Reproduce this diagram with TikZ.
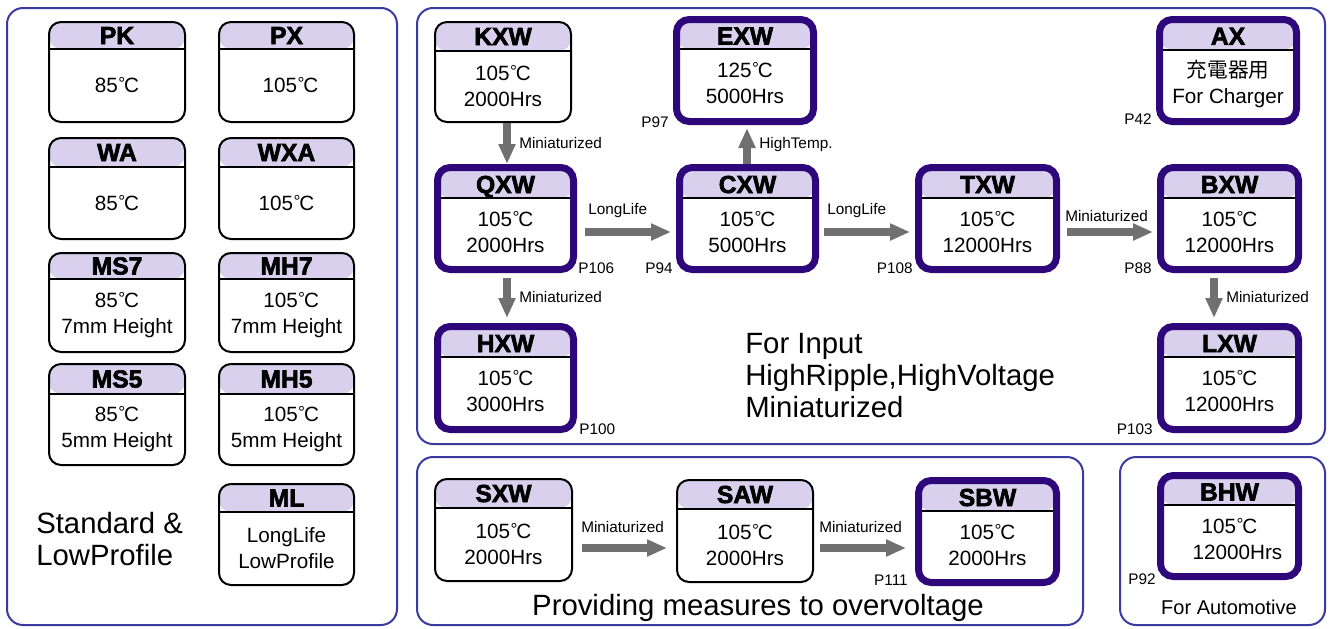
\documentclass[tikz,border=0pt]{standalone}
\usepackage{fontspec}
\setmainfont{Liberation Sans}
\newfontfamily\cjkfont{Noto Sans CJK JP}
\newfontfamily\hdrfont{Liberation Sans Bold}[FakeBold=2.5]
\usetikzlibrary{arrows.meta,calc,fit}
\definecolor{hdrcol}{RGB}{216,208,236}
\definecolor{thickcol}{RGB}{46,8,122}
\definecolor{framecol}{RGB}{58,58,160}
\definecolor{arrcol}{RGB}{112,112,112}
\newcommand\dC{\kern0.3pt\raisebox{2.2pt}{\fontsize{13}{13}\selectfont°}\kern-0.8pt C}
\tikzset{
  hdr/.style={path picture={
    \fill[hdrcol] ([yshift=4pt]path picture bounding box.north west) rectangle ([yshift=-#1*0.75pt]path picture bounding box.north east);
    \draw[black, line width=1.5pt] ([yshift=-#1*0.75pt]path picture bounding box.north west) -- ([yshift=-#1*0.75pt]path picture bounding box.north east);
  }},
  thinbox/.style={draw=black, line width=1.5pt, rounded corners=9pt, fill=white, inner sep=0pt},
  thickbox/.style={draw=thickcol, line width=5.25pt, rounded corners=9.5pt, fill=white, inner sep=0pt},
  ttl/.style={font=\fontsize{18.5}{20}\hdrfont, inner sep=0pt},
  body/.style={font=\fontsize{15.5}{19.5}\selectfont, align=center, inner sep=0pt},
  lbl/.style={font=\fontsize{11.5}{13}\selectfont, inner sep=0pt},
  big/.style={font=\fontsize{22}{24}\selectfont, align=left, inner sep=0pt},
  frame/.style={draw=framecol, line width=1.5pt, rounded corners=12pt},
  arr/.style={draw=arrcol, line width=6.5pt, -{Triangle[length=15pt,width=12pt]}},
}
\newcommand\mkthin[8]{%
  \node[thinbox, hdr=#6, fit={(#2,#3) (#4,#5)}] (#1) {};
  \node[ttl, anchor=base] (#1t) at ({(#2+#4)/2},{#3+#6/2+8.5}) {#7};
  \node[body] (#1b) at ({(#2+#4)/2},{(#3+#6+#5)/2}) {#8};
}
\newcommand\mkthick[8]{%
  \node[thickbox, hdr=#6, fit={(#2,#3) (#4,#5)}] (#1) {};
  \node[ttl, anchor=base] (#1t) at ({(#2+#4)/2},{#3+(#6+3.5)/2+8.5}) {#7};
  \node[body] (#1b) at ({(#2+#4)/2},{(#3+#6+#5-3.5)/2}) {#8};
}
\begin{document}
\begin{tikzpicture}[x=0.75pt,y=-0.75pt]
\useasboundingbox (0,0) rectangle (1330,628);
\fill[white] (0,0) rectangle (1330,628);
% frames
\draw[frame] (7,8) rectangle (397,625);
\draw[frame] (417,8) rectangle (1325,444);
\draw[frame] (417,457) rectangle (1083,625);
\draw[frame] (1120,457) rectangle (1325,625);
% left panel
\mkthin{PK}{49}{22}{185}{122}{27}{PK}{85\dC}
\mkthin{PX}{219}{22}{354}{122}{27}{PX}{\hspace*{6pt}105\dC}
\mkthin{WA}{49}{138}{185}{239}{29}{WA}{85\dC}
\mkthin{WXA}{219}{138}{354}{239}{29}{WXA}{105\dC}
\mkthin{MSs}{49}{253}{185}{352}{26}{MS7}{85\dC\\7mm Height}
\mkthin{MHs}{219}{253}{354}{352}{26}{MH7}{\hspace*{7pt}105\dC\\7mm Height}
\mkthin{MSf}{49}{364}{185}{465}{30}{MS5}{85\dC\\5mm Height}
\mkthin{MHf}{219}{364}{354}{465}{30}{MH5}{\hspace*{7pt}105\dC\\5mm Height}
\mkthin{ML}{219}{484}{354}{585}{28}{ML}{LongLife\\LowProfile}
\node[big, anchor=west] (std) at (36,539.5) {Standard \&\\LowProfile};
% top right panel
\mkthin{KXW}{435}{22}{571}{122}{29}{KXW}{105\dC\\2000Hrs}
\mkthick{EXW}{676.5}{19.5}{813.5}{121.5}{29.5}{EXW}{125\dC\\5000Hrs}
\mkthick{AX}{1159.5}{19.5}{1296.5}{121.5}{30}{AX}{{\cjkfont 充電器用}\\For Charger}
\mkthick{QXW}{437.5}{167.5}{573.5}{269.5}{30.5}{QXW}{105\dC\\2000Hrs}
\mkthick{CXW}{679.5}{167.5}{815.5}{269.5}{30.5}{CXW}{105\dC\\5000Hrs}
\mkthick{TXW}{918.5}{167.5}{1056.5}{269.5}{30.5}{TXW}{105\dC\\12000Hrs}
\mkthick{BXW}{1160.5}{167.5}{1298.5}{269.5}{30.5}{BXW}{105\dC\\12000Hrs}
\mkthick{HXW}{437.5}{326.5}{573.5}{429.5}{30.5}{HXW}{105\dC\\3000Hrs}
\mkthick{LXW}{1160.5}{326.5}{1298.5}{429.5}{30.5}{LXW}{105\dC\\12000Hrs}
\node[big, anchor=west] (input) at (745,376) {For Input\\HighRipple,HighVoltage\\Miniaturized};
% bottom middle
\mkthin{SXW}{435}{479}{572}{581}{29}{SXW}{105\dC\\2000Hrs}
\mkthin{SAW}{677}{480}{813}{582}{29}{SAW}{105\dC\\2000Hrs}
\mkthick{SBW}{918.5}{480.5}{1056.5}{582.5}{30.5}{SBW}{105\dC\\2000Hrs}
\node[big, anchor=base] (prov) at (758,615) {Providing measures to overvoltage};
% bottom right
\mkthick{BHW}{1160.5}{475.5}{1298.5}{576.5}{29.5}{BHW}{105\dC\\\hspace*{12pt}12000Hrs}
\node[font=\fontsize{15}{17}\selectfont, inner sep=0pt, anchor=base] (auto) at (1229,614) {For Automotive};
% arrows
\coordinate (a1) at ($(KXW.south)+(4,0)$);
\draw[arr] (a1) -- (a1 |- QXW.north);
\coordinate (a2) at ($(QXW.south)+(1.5,5)$);
\coordinate (a2e) at ($(HXW.north)+(0,-5)$);
\draw[arr] (a2) -- (a2 |- a2e);
\coordinate (a3) at ($(QXW.east)+(8,13.5)$);
\coordinate (a3e) at ($(CXW.west)+(-5,0)$);
\draw[arr] (a3) -- (a3 -| a3e);
\coordinate (a4) at ($(CXW.north)+(-0.5,0)$);
\coordinate (a4e) at ($(EXW.south)+(0,3)$);
\draw[arr] (a4) -- (a4 |- a4e);
\coordinate (a5) at ($(CXW.east)+(5,13.5)$);
\coordinate (a5e) at ($(TXW.west)+(-5,0)$);
\draw[arr] (a5) -- (a5 -| a5e);
\coordinate (a6) at ($(TXW.east)+(7,13.5)$);
\coordinate (a6e) at ($(BXW.west)+(-4,0)$);
\draw[arr] (a6) -- (a6 -| a6e);
\coordinate (a7) at ($(BXW.south)+(-15.5,5)$);
\coordinate (a7e) at ($(LXW.north)+(0,-5)$);
\draw[arr] (a7) -- (a7 |- a7e);
\coordinate (a8) at ($(SXW.east)+(9,18)$);
\coordinate (a8e) at ($(SAW.west)+(-9,0)$);
\draw[arr] (a8) -- (a8 -| a8e);
\coordinate (a9) at ($(SAW.east)+(6,17)$);
\coordinate (a9e) at ($(SBW.west)+(-9,0)$);
\draw[arr] (a9) -- (a9 -| a9e);
% arrow labels
\node[lbl, anchor=west] (l1) at (519,143) {Miniaturized};
\node[lbl, anchor=west] (l2) at (519,297) {Miniaturized};
\node[lbl, anchor=west] (l3) at (588,211) {LongLife};
\node[lbl, anchor=west] (l4) at (759,145) {HighTemp.};
\node[lbl, anchor=west] (l5) at (827,211) {LongLife};
\node[lbl, anchor=west] (l6) at (1065,216) {Miniaturized};
\node[lbl, anchor=west] (l7) at (1226,297) {Miniaturized};
\node[lbl, anchor=west] (l8) at (581,527) {Miniaturized};
\node[lbl, anchor=west] (l9) at (819,527) {Miniaturized};
% page labels
\node[lbl, anchor=east] (p97) at (669,122) {P97};
\node[lbl, anchor=west] (p106) at (578,268) {P106};
\node[lbl, anchor=east] (p94) at (673,268) {P94};
\node[lbl, anchor=east] (p108) at (913,268) {P108};
\node[lbl, anchor=east] (p88) at (1152,268) {P88};
\node[lbl, anchor=east] (p42) at (1152,119) {P42};
\node[lbl, anchor=west] (p100) at (579,429) {P100};
\node[lbl, anchor=east] (p103) at (1153,429) {P103};
\node[lbl, anchor=east] (p111) at (908,580) {P111};
\node[lbl, anchor=east] (p92) at (1156,579) {P92};
\end{tikzpicture}
\end{document}
